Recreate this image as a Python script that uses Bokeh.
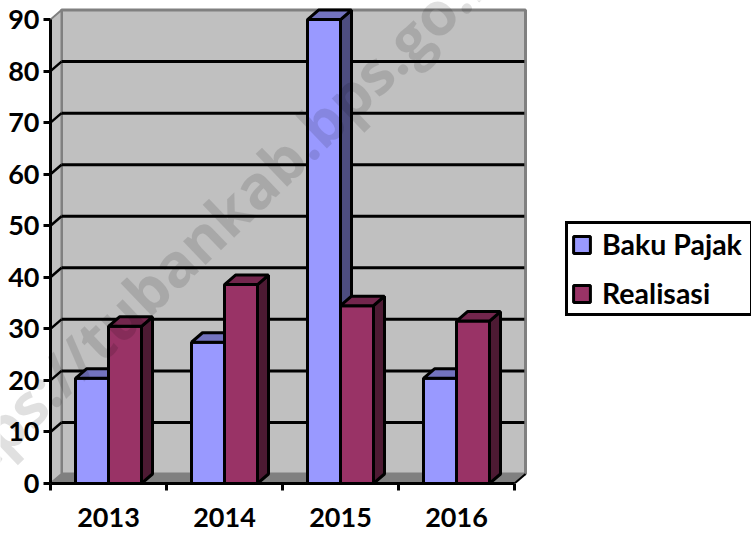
from bokeh.plotting import figure
from bokeh.models import Label, FixedTicker, Legend, LegendItem
from bokeh.embed import file_html
from bokeh.resources import INLINE

years = ["2013", "2014", "2015", "2016"]
baku_pajak = [20.4, 27.4, 90, 20.4]
realisasi = [30.5, 38.6, 34.5, 31.5]
y_ticks = [0, 10, 20, 30, 40, 50, 60, 70, 80, 90]
watermark = "https://tubankab.bps.go.id"

PX_X = 116.0   # pixels per category
PX_Y = 5.155   # pixels per value unit
DX = 11 / PX_X
DY = 9.5 / PX_Y
BW = 33 / PX_X
FONT = "Lato"

p = figure(width=751, height=533, output_backend="svg", toolbar_location=None,
           x_range=(0, 701 / PX_X), y_range=(0, 483 / PX_Y),
           min_border_left=50, min_border_right=0, min_border_top=0, min_border_bottom=50,
           background_fill_color=None, border_fill_color="white", outline_line_color=None)
p.grid.visible = False

n = len(years)
x_max = float(n)
y_max = float(y_ticks[-1])

# walls and floor
p.patch([DX, x_max + DX, x_max + DX, DX], [DY, DY, y_max + DY, y_max + DY],
        fill_color="#C0C0C0", line_color="#808080", line_width=3)
p.patch([0, DX, DX, 0], [0, DY, y_max + DY, y_max],
        fill_color="#C0C0C0", line_color="#808080", line_width=2)
p.patch([0, x_max, x_max + DX, DX], [0, 0, DY, DY],
        fill_color="#808080", line_color="#808080", line_width=1)
p.line([x_max, x_max + DX], [0, DY], line_color="black", line_width=2)

# grid lines on back wall and side wall
gy = y_ticks[1:-1]
p.segment([DX] * len(gy), [v + DY for v in gy], [x_max + DX - 0.01] * len(gy), [v + DY for v in gy],
          line_color="black", line_width=3)
p.segment([0] * len(gy), gy, [DX] * len(gy), [v + DY for v in gy], line_color="black", line_width=2.5)


def bar_series(values, x_off, front, side, top):
    xs = [i + 0.5 + x_off for i in range(n)]
    r = p.vbar(x=xs, bottom=0, top=values, width=BW, fill_color=front, line_color="black", line_width=3)
    side_x = [[x + BW / 2, x + BW / 2 + DX, x + BW / 2 + DX, x + BW / 2] for x in xs]
    side_y = [[0, DY, v + DY, v] for v in values]
    top_x = [[x - BW / 2, x - BW / 2 + DX, x + BW / 2 + DX, x + BW / 2] for x in xs]
    top_y = [[v, v + DY, v + DY, v] for v in values]
    p.patches(side_x, side_y, fill_color=side, line_color="black", line_width=3)
    p.patches(top_x, top_y, fill_color=top, line_color="black", line_width=3)
    return r


r1 = bar_series(baku_pajak, -BW / 2, "#9999FF", "#4D4D80", "#7373BF")
r2 = bar_series(realisasi, BW / 2, "#993366", "#4D1A33", "#73264D")

# axes
ya = p.yaxis[0]
ya.ticker = FixedTicker(ticks=y_ticks)
ya.bounds = (0, y_max)
ya.axis_line_color = "black"
ya.axis_line_width = 3
ya.major_tick_line_color = "black"
ya.major_tick_line_width = 3
ya.major_tick_out = 7
ya.major_tick_in = 0
ya.minor_tick_line_color = None
ya.major_label_standoff = 4
ya.major_label_text_font = FONT
ya.major_label_text_font_style = "bold"
ya.major_label_text_font_size = "27px"
ya.major_label_text_color = "black"

xa = p.xaxis[0]
ticks = [i + 0.5 for i in range(n)]
xa.ticker = FixedTicker(ticks=ticks, minor_ticks=list(range(n + 1)))
xa.major_label_overrides = {t: y for t, y in zip(ticks, years)}
xa.bounds = (0, x_max)
xa.axis_line_color = "black"
xa.axis_line_width = 3
xa.major_tick_line_color = None
xa.major_tick_out = 0
xa.major_tick_in = 0
xa.minor_tick_line_color = "black"
xa.minor_tick_line_width = 3
xa.minor_tick_out = 7
xa.minor_tick_in = 0
xa.major_label_standoff = 17
xa.major_label_text_font = FONT
xa.major_label_text_font_style = "bold"
xa.major_label_text_font_size = "27px"
xa.major_label_text_color = "black"

# legend
legend = Legend(items=[LegendItem(label="Baku Pajak", renderers=[r1]),
                       LegendItem(label="Realisasi", renderers=[r2])],
                location=(515, 167), orientation="vertical",
                border_line_color="black", border_line_width=3, border_line_alpha=1,
                background_fill_color="white", background_fill_alpha=1,
                label_text_font=FONT, label_text_font_style="bold",
                label_text_font_size="28.5px", label_text_color="black",
                glyph_width=21, glyph_height=21, spacing=15, padding=3,
                label_standoff=10, label_width=145, margin=0)
p.add_layout(legend)

# watermark: a transparent figure laid over the chart, so it may run across the axis labels
ov = figure(width=751, height=533, output_backend="svg", toolbar_location=None,
            x_range=(0, 751), y_range=(533, 0), x_axis_location=None, y_axis_location=None,
            min_border=0, background_fill_color=None, border_fill_color=None,
            outline_line_color=None)
ov.grid.visible = False
ov.styles = {"position": "absolute", "left": "0px", "top": "0px", "pointer-events": "none"}
ov.add_layout(Label(x=211, y=227, text=watermark, angle=0.765,
                    text_align="center", text_baseline="middle", text_font="Open Sans",
                    text_font_style="bold", text_font_size="60px", text_color="black",
                    text_alpha=0.12))

open("out.html", "w").write(file_html([p, ov], INLINE))
